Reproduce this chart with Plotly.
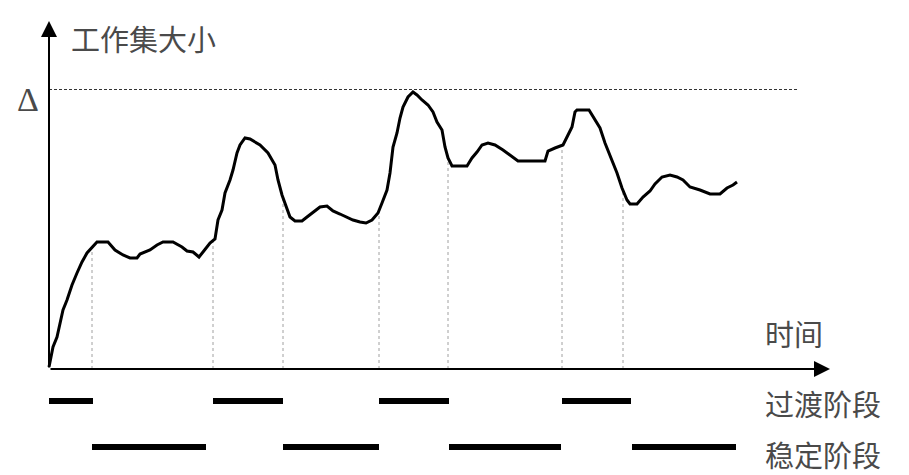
import numpy as np
import plotly.graph_objects as go

# time (t) and working-set size (s) of the curve
t = [0, 4, 8, 11, 14, 18, 23, 28, 33, 38, 43, 48, 59, 66, 74, 81, 88, 91, 101, 108, 114, 124, 133, 138, 144, 150,
     154, 161, 166, 169, 173, 176, 181, 184, 188, 191, 196, 201, 211, 219, 226, 229, 233, 236, 241, 246, 253, 258,
     264, 271, 278, 284, 291, 298, 304, 311, 317, 323, 329, 333, 338, 341, 344, 348, 351, 354, 359, 364, 368, 373,
     379, 384, 388, 393, 396, 399, 403, 418, 423, 428, 433, 439, 446, 454, 461, 469, 496, 499, 506, 514, 519, 523,
     526, 528, 540, 546, 551, 556, 563, 568, 573, 578, 581, 588, 594, 601, 606, 613, 621, 628, 634, 641, 651, 661,
     671, 678, 684, 688]
s = [2, 22, 32, 46, 59, 69, 84, 96, 107, 116, 122, 127, 127, 119, 114, 111, 111, 115, 119, 124, 127, 127, 122, 118,
     117, 112, 117, 126, 130, 149, 159, 176, 189, 199, 216, 224, 231, 230, 224, 216, 204, 189, 174, 166, 152, 148,
     148, 152, 157, 162, 163, 158, 155, 152, 149, 147, 146, 149, 156, 166, 179, 196, 222, 236, 251, 262, 272, 277,
     274, 269, 264, 257, 247, 239, 222, 211, 203, 203, 211, 217, 224, 226, 224, 219, 214, 208, 208, 218, 221, 224,
     234, 242, 257, 259, 259, 249, 241, 226, 209, 196, 181, 169, 165, 165, 172, 178, 185, 192, 194, 192, 189, 182,
     179, 175, 175, 181, 184, 187]

delta_level = 279.5
delta_end = 748
phase_bounds = [43, 164, 234, 330, 399, 513, 574]
transition_phases = [(0, 44), (164, 234), (330, 400), (513, 582)]
stable_phases = [(43, 157), (234, 330), (400, 512), (583, 687)]

y_label = "工作集大小"
x_label = "时间"
delta_label = "Δ"
transition_label = "过渡阶段"
stable_label = "稳定阶段"

FONT = "Noto Sans CJK SC"
TXT = "#4a4a4a"

fig = go.Figure()

# vertical dotted phase boundaries
vx, vy = [], []
for b in phase_bounds:
    top = float(np.interp(b, t, s))
    vx += [b, b, None]
    vy += [0, top, None]
fig.add_trace(go.Scatter(x=vx, y=vy, mode="lines",
                         line=dict(color="#a0a0a0", width=1, dash="dot"), hoverinfo="skip"))

# dashed delta level
fig.add_trace(go.Scatter(x=[0, delta_end], y=[delta_level, delta_level], mode="lines",
                         line=dict(color="#333333", width=1, dash="3px,2px"), hoverinfo="skip"))

# curve
fig.add_trace(go.Scatter(x=t, y=s, mode="lines", line=dict(color="black", width=3), hoverinfo="skip"))

# phase bars
def bars(phases, level):
    bx, by = [], []
    for a, b in phases:
        bx += [a, b, None]
        by += [level, level, None]
    return bx, by

bx, by = bars(transition_phases, -32)
fig.add_trace(go.Scatter(x=bx, y=by, mode="lines", line=dict(color="black", width=6), hoverinfo="skip"))
bx, by = bars(stable_phases, -78)
fig.add_trace(go.Scatter(x=bx, y=by, mode="lines", line=dict(color="black", width=6), hoverinfo="skip"))

annotations = [
    # axes with arrows
    dict(x=0, y=348, ax=0, ay=0, xref="x", yref="y", axref="x", ayref="y", showarrow=True,
         arrowhead=2, arrowsize=1.6, arrowwidth=2, arrowcolor="black", text=""),
    dict(x=781, y=0, ax=0, ay=0, xref="x", yref="y", axref="x", ayref="y", showarrow=True,
         arrowhead=2, arrowsize=1.6, arrowwidth=2, arrowcolor="black", text=""),
    dict(x=20, y=331, text=y_label, showarrow=False, xanchor="left", yanchor="middle",
         font=dict(family=FONT, size=29, color=TXT)),
    dict(x=-21, y=270, text=delta_label, showarrow=False, xanchor="center", yanchor="middle",
         font=dict(family="Liberation Serif", size=34, color=TXT)),
    dict(x=714, y=36, text=x_label, showarrow=False, xanchor="left", yanchor="middle",
         font=dict(family=FONT, size=29, color=TXT)),
    dict(x=714, y=-34, text=transition_label, showarrow=False, xanchor="left", yanchor="middle",
         font=dict(family=FONT, size=29, color=TXT)),
    dict(x=714, y=-85, text=stable_label, showarrow=False, xanchor="left", yanchor="middle",
         font=dict(family=FONT, size=29, color=TXT)),
]

fig.update_layout(
    width=909, height=475,
    margin=dict(l=0, r=0, t=0, b=0),
    paper_bgcolor="white", plot_bgcolor="white",
    showlegend=False,
    xaxis=dict(range=[-49, 860], visible=False, fixedrange=True),
    yaxis=dict(range=[-106, 369], visible=False, fixedrange=True),
    annotations=annotations,
)

fig.write_html("out.html", config={"displayModeBar": False},
               post_script="document.body.style.margin='0';document.body.style.overflow='hidden';")
